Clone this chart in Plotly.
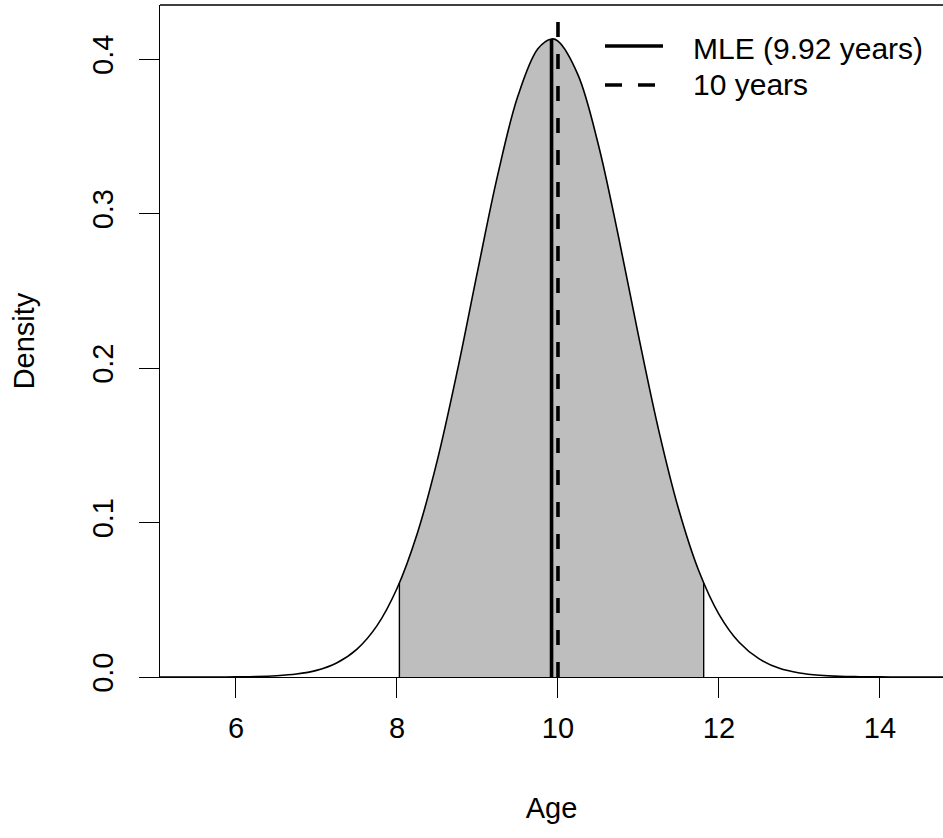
import plotly.graph_objects as go

# ---- data ----
age = [5.0, 5.25, 5.5, 5.75, 6.0, 6.25, 6.5, 6.75, 7.0, 7.25, 7.5, 7.75, 8.0, 8.25, 8.5,
       8.75, 9.0, 9.25, 9.5, 9.75, 9.92, 10.0, 10.25, 10.5, 10.75, 11.0, 11.25, 11.5,
       11.75, 12.0, 12.25, 12.5, 12.75, 13.0, 13.25, 13.5, 13.75, 14.0, 14.25, 14.5, 14.75, 15.0]
density = [0.0000, 0.0000, 0.0000, 0.0000, 0.0001, 0.0003, 0.0008, 0.0019, 0.0043, 0.0091, 0.0179,
           0.0331, 0.0573, 0.0926, 0.1401, 0.1983, 0.2624, 0.3247, 0.3757, 0.4066, 0.4130,
           0.4116, 0.3896, 0.3449, 0.2855, 0.2210, 0.1600, 0.1084, 0.0686, 0.0406, 0.0225,
           0.0117, 0.0056, 0.0026, 0.0011, 0.0004, 0.0002, 0.0001, 0.0000, 0.0000, 0.0000, 0.0000]

ci_age = [8.03, 8.25, 8.5, 8.75, 9.0, 9.25, 9.5, 9.75, 9.92, 10.0, 10.25, 10.5, 10.75,
          11.0, 11.25, 11.5, 11.75, 11.81]
ci_density = [0.0609, 0.0926, 0.1401, 0.1983, 0.2624, 0.3247, 0.3757, 0.4066, 0.4130,
              0.4116, 0.3896, 0.3449, 0.2855, 0.2210, 0.1600, 0.1084, 0.0686, 0.0609]

mle_age = 9.92
mle_density = 0.4130
ref_age = 10.0
legend_labels = ["MLE (9.92 years)", "10 years"]

x_ticks = [6, 8, 10, 12, 14]
y_ticks = [0.0, 0.1, 0.2, 0.3, 0.4]
y_tick_labels = ["0.0", "0.1", "0.2", "0.3", "0.4"]

x_range = [5.056, 14.783]
y_range = [0.0, 0.435]

FONT = "Liberation Sans, Arial, Helvetica, sans-serif"
FS = 29
FS_LEG = 30

fig = go.Figure()

# shaded interval
fig.add_trace(go.Scatter(
    x=ci_age, y=ci_density, mode="lines", line=dict(width=0, shape="spline", color="#BEBEBE"),
    fill="tozeroy", fillcolor="#BEBEBE", hoverinfo="skip", showlegend=False))

# interval edges
fig.add_trace(go.Scatter(
    x=[ci_age[0], ci_age[0], None, ci_age[-1], ci_age[-1]],
    y=[0, ci_density[0], None, ci_density[-1], 0],
    mode="lines", line=dict(color="black", width=1.4), hoverinfo="skip", showlegend=False))

# density curve
fig.add_trace(go.Scatter(
    x=age, y=density, mode="lines", line=dict(color="black", width=1.6, shape="spline"),
    showlegend=False, name="Density"))

# MLE line
fig.add_trace(go.Scatter(
    x=[mle_age, mle_age], y=[0, mle_density], mode="lines",
    line=dict(color="black", width=3.6), name=legend_labels[0], showlegend=False))

# 10 years line
fig.add_trace(go.Scatter(
    x=[ref_age, ref_age], y=[y_range[0], y_range[1]], mode="lines",
    line=dict(color="black", width=3.6, dash="15px,17px"), name=legend_labels[1],
    showlegend=False))

L, T, W, H = 160, 5, 943, 838
B = 677
pw = W - L
ph = B - T


def xp(px):
    return (px - L) / pw


def yp(py):
    return (B - py) / ph


shapes = [
    dict(type="line", xref="paper", yref="paper", x0=0, x1=1, y0=1, y1=1,
         line=dict(color="black", width=1.3)),
    dict(type="line", xref="paper", yref="paper", x0=xp(605), x1=xp(663), y0=yp(46), y1=yp(46),
         line=dict(color="black", width=3.6)),
    dict(type="line", xref="paper", yref="paper", x0=xp(605), x1=xp(663), y0=yp(85), y1=yp(85),
         line=dict(color="black", width=3.6, dash="17px,16px")),
]

annotations = [
    dict(xref="paper", yref="paper", x=xp(691), y=yp(49), text=legend_labels[0], showarrow=False,
         xanchor="left", yanchor="middle", font=dict(family=FONT, size=FS_LEG, color="black")),
    dict(xref="paper", yref="paper", x=xp(691), y=yp(84), text=legend_labels[1], showarrow=False,
         xanchor="left", yanchor="middle", font=dict(family=FONT, size=FS_LEG, color="black")),
]

fig.update_layout(
    width=W, height=H,
    margin=dict(l=L, r=0, t=T, b=H - B, pad=0),
    paper_bgcolor="white", plot_bgcolor="white",
    font=dict(family=FONT, size=FS, color="black"),
    showlegend=False,
    shapes=shapes, annotations=annotations,
    xaxis=dict(range=x_range, tickvals=x_ticks, ticks="outside", ticklen=20, tickwidth=1.3,
               tickcolor="black", showline=True, linecolor="black", linewidth=1.3,
               showgrid=False, zeroline=False, ticklabelstandoff=5,
               tickfont=dict(family=FONT, size=FS, color="black"),
               title=dict(text="Age", font=dict(family=FONT, size=FS, color="black"), standoff=54)),
    yaxis=dict(range=y_range, tickvals=y_ticks, ticktext=y_tick_labels, tickangle=-90,
               ticks="outside", ticklen=20, tickwidth=1.3, tickcolor="black",
               showline=True, linecolor="black", linewidth=1.3, showgrid=False, zeroline=False,
               ticklabelstandoff=14,
               tickfont=dict(family=FONT, size=FS, color="black"),
               title=dict(text="Density", font=dict(family=FONT, size=FS, color="black"), standoff=44)),
)

fig.write_html("out.html", config={"displayModeBar": False},
               post_script="document.body.style.margin='0px';")
